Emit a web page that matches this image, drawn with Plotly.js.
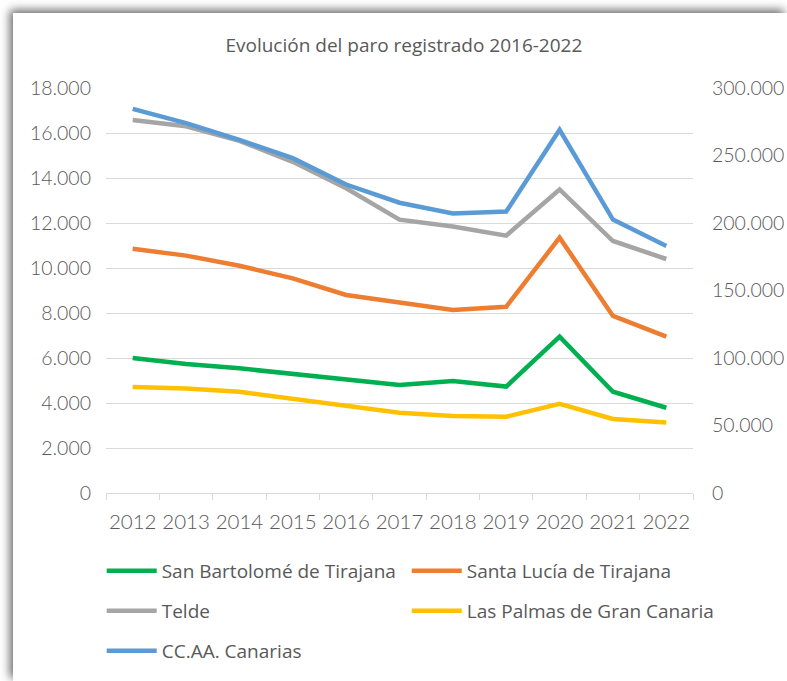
<!DOCTYPE html>
<html>
<head>
<meta charset="utf-8">
<script src="https://cdn.plot.ly/plotly-3.0.1.min.js"></script>
<style>
html,body{margin:0;padding:0;background:#fff;}
#wrap{position:relative;width:787px;height:681px;overflow:hidden;background:#fff;}
#graph{position:absolute;left:13px;top:13px;width:774px;height:668px;background:#fff;
box-shadow:-3px -3px 9px rgba(0,0,0,0.6);}
</style>
</head>
<body>
<div id="wrap"><div id="graph"></div></div>
<script>
let years = ['2012','2013','2014','2015','2016','2017','2018','2019','2020','2021','2022'];

// left axis
let sanBartolome = [6000,5730,5540,5290,5080,4800,4980,4730,6950,4500,3790];
let santaLucia   = [10860,10550,10100,9540,8800,8470,8130,8280,11350,7870,6950];
let telde        = [16580,16300,15650,14720,13540,12150,11840,11440,13490,11200,10400];

// right axis
let lasPalmas    = [78500,77500,75000,70000,65200,59500,57000,56500,66000,54800,52200];
let canarias     = [284500,274000,261500,248000,228500,215000,207000,208500,269000,202500,183000];

let tickFont = {family:'Lato',size:19.5,weight:300,color:'#595959'};
let legFont = {family:'Open Sans',size:19,color:'#595959'};

function tr(name,y,color,axis,leg){
    return {
        x:years,
        y:y,
        name:name,
        mode:'lines',
        yaxis:axis,
        legend:leg,
        line:{color:color,width:4.5},
        hoverinfo:'skip'
    };
}

let data = [
    tr('San Bartolomé de Tirajana',sanBartolome,'#00b050','y','legend'),
    tr('Santa Lucía de Tirajana',santaLucia,'#ed7d31','y','legend2'),
    tr('Telde',telde,'#a5a5a5','y','legend3'),
    tr('Las Palmas de Gran Canaria',lasPalmas,'#ffc000','y2','legend4'),
    tr('CC.AA. Canarias',canarias,'#5b9bd5','y2','legend5')
];

// one legend per slot: two columns, three rows
function leg(x,y){
    return {
        orientation:'h',
        xref:'container',
        yref:'container',
        x:x,
        xanchor:'left',
        y:y,
        yanchor:'middle',
        font:legFont,
        itemwidth:50,
        bgcolor:'rgba(0,0,0,0)'
    };
}

let col1 = 0.1146, col2 = 0.5087;
let row1 = 0.1647, row2 = 0.1048, row3 = 0.0449;

let layout = {
    width:774,
    height:668,
    margin:{l:93,r:94,t:75,b:188},
    paper_bgcolor:'#fff',
    plot_bgcolor:'#fff',
    separators:',.',
    title:{
        text:'Evolución del paro registrado 2016-2022',
        font:{family:'Open Sans',size:19,color:'#595959'},
        x:0.505,
        xanchor:'center',
        y:0.952,
        yanchor:'middle'
    },
    xaxis:{
        type:'category',
        range:[-0.5,10.5],
        showgrid:false,
        showline:true,
        linecolor:'#d9d9d9',
        linewidth:1,
        ticks:'outside',
        tickson:'boundaries',
        ticklen:6,
        tickcolor:'#d9d9d9',
        tickangle:0,
        tickfont:{family:'Lato',size:20.5,weight:300,color:'#595959'},
        ticklabelstandoff:10,
        fixedrange:true
    },
    yaxis:{
        range:[0,18000],
        dtick:2000,
        tickformat:',d',
        gridcolor:'#d9d9d9',
        gridwidth:1,
        zeroline:false,
        showline:false,
        tickfont:tickFont,
        ticklabelstandoff:14,
        fixedrange:true
    },
    yaxis2:{
        range:[0,300000],
        dtick:50000,
        tickformat:',d',
        overlaying:'y',
        side:'right',
        showgrid:false,
        zeroline:false,
        showline:false,
        tickfont:tickFont,
        ticklabelstandoff:18,
        fixedrange:true
    },
    legend:leg(col1,row1),
    legend2:leg(col2,row1),
    legend3:leg(col1,row2),
    legend4:leg(col2,row2),
    legend5:leg(col1,row3),
    showlegend:true
};

Plotly.newPlot('graph',data,layout,{displayModeBar:false,staticPlot:true});
</script>
</body>
</html>
